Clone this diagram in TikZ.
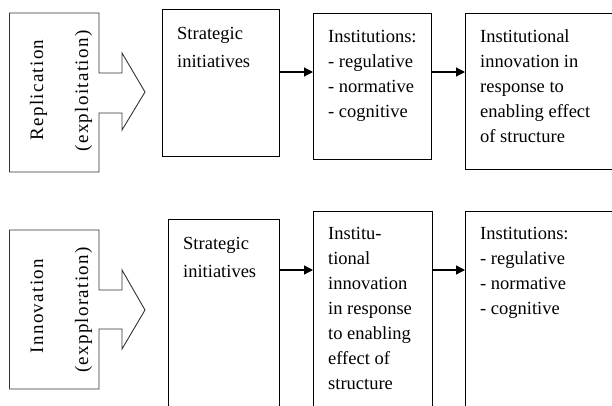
\documentclass[tikz,border=0pt]{standalone}
\usepackage{fontspec}
\setmainfont{Liberation Serif}
\newfontfamily\spacedfont[LetterSpace=7]{Liberation Serif}
\usetikzlibrary{arrows.meta}
\newcommand\stacklines[1]{\vtop{\halign{##\hfil\cr#1\crcr}}}
\tikzset{
  box/.style={draw, line width=1.2pt, inner sep=0pt, anchor=north west},
  txt/.style={anchor=base west, inner sep=0pt, font=\fontsize{18.5}{25}\selectfont},
  txtwide/.style={anchor=base west, inner sep=0pt, font=\fontsize{18.5}{28}\selectfont},
  rot/.style={rotate=90, anchor=base, inner sep=0pt, font=\spacedfont\fontsize{19}{20}\selectfont},
  blockarrow/.style={draw=black!80, line width=0.9pt, line join=miter},
  arr/.style={line width=1.2pt, -{Triangle[length=9pt,width=9pt]}},
}
\begin{document}
\begin{tikzpicture}[x=1pt,y=-1pt]
\useasboundingbox (0,0) rectangle (612,405);
\clip (0,0) rectangle (612,405);
% block arrows
\draw[blockarrow] (9.5,13) -- (99,13) -- (99,73) -- (122,73) -- (122,53) -- (145,92)
  -- (122,130) -- (122,113) -- (99,113) -- (99,172) -- (9.5,172) -- cycle;
\draw[blockarrow] (9.5,230) -- (99,230) -- (99,290) -- (122,290) -- (122,270) -- (145,310)
  -- (122,349) -- (122,329) -- (99,329) -- (99,389) -- (9.5,389) -- cycle;
\node[rot] (rep) at (43,90) {Replication};
\node[rot] (expl) at (88,91) {(exploitation)};
\node[rot] (inn) at (43,306) {Innovation};
\node[rot] (explo) at (88,310) {(expploration)};
% top row boxes
\node[box, minimum width=117pt, minimum height=147pt] (s1) at (162,9) {};
\node[box, minimum width=118pt, minimum height=146pt] (i1) at (313,13) {};
\node[box, minimum width=160pt, minimum height=156pt] (n1) at (465,13) {};
% bottom row boxes
\node[box, minimum width=111pt, minimum height=210pt] (s2) at (168,219) {};
\node[box, minimum width=119pt, minimum height=215pt] (n2) at (313,211) {};
\node[box, minimum width=160pt, minimum height=215pt] (i2) at (465,211) {};
% texts
\node[txtwide] (ts1) at (177,39) {\stacklines{Strategic\cr initiatives}};
\node[txt] (ti1) at (328,42) {\stacklines{Institutions:\cr - regulative\cr - normative\cr - cognitive}};
\node[txt] (tn1) at (480,42) {\stacklines{Institutional\cr innovation in\cr response to\cr enabling effect\cr of structure}};
\node[txtwide] (ts2) at (183,249) {\stacklines{Strategic\cr initiatives}};
\node[txt] (tn2) at (328,239) {\stacklines{Institu-\cr tional\cr innovation\cr in response\cr to enabling\cr effect of\cr structure}};
\node[txt] (ti2) at (480,239) {\stacklines{Institutions:\cr - regulative\cr - normative\cr - cognitive}};
% connectors
\coordinate (r1) at (0,72);
\coordinate (r2) at (0,270);
\draw[arr] (s1.east |- r1) -- (i1.west |- r1);
\draw[arr] (i1.east |- r1) -- (n1.west |- r1);
\draw[arr] (s2.east |- r2) -- (n2.west |- r2);
\draw[arr] (n2.east |- r2) -- (i2.west |- r2);
\end{tikzpicture}
\end{document}
